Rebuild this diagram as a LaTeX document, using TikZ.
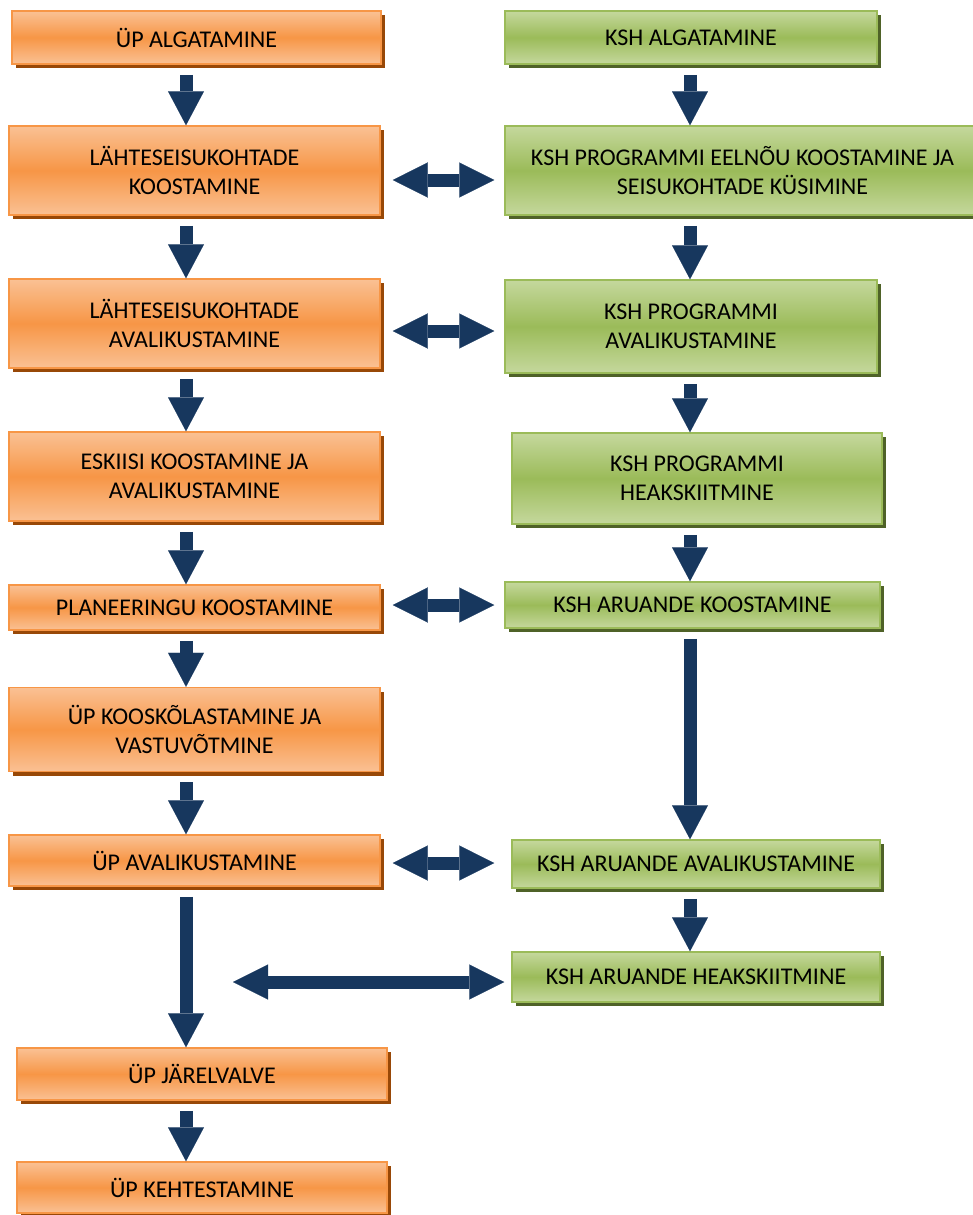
\documentclass[tikz,border=0pt]{standalone}
\usepackage{fontspec}
\setmainfont{Carlito}
\usetikzlibrary{arrows.meta, shadows}
\definecolor{up_orange}{RGB}{247,150,70}
\definecolor{up_light}{RGB}{250,193,148}
\definecolor{up_shadow}{RGB}{152,72,7}
\definecolor{ksh_green}{RGB}{155,187,89}
\definecolor{ksh_light}{RGB}{197,216,157}
\definecolor{ksh_shadow}{RGB}{79,98,40}
\definecolor{arrow_navy}{RGB}{23,55,94}

\begin{document}
\begin{tikzpicture}[
    x=1pt, y=-1pt,
    every node/.style={font=\fontsize{24}{29}\selectfont},
    upbox/.style={draw=up_orange, line width=1.5pt,
                top color=up_light, bottom color=up_light, middle color=up_orange,
                drop shadow={shadow xshift=4pt, shadow yshift=-4pt, fill=up_shadow, opacity=1},
                minimum width=371pt, minimum height=89pt,
                align=center, inner sep=0pt},
    kshbox/.style={draw=ksh_green, line width=1.5pt,
                top color=ksh_light, bottom color=ksh_light, middle color=ksh_green,
                drop shadow={shadow xshift=4pt, shadow yshift=-4pt, fill=ksh_shadow, opacity=1},
                minimum width=372pt, minimum height=89pt,
                align=center, inner sep=0pt},
    flow/.style={line width=13pt, arrow_navy, shorten <=10pt,
                -{Triangle[length=34pt, width=36pt, line width=0.1pt]}},
    dflow/.style={line width=13pt, arrow_navy,
                {Triangle[length=35pt, width=35pt, line width=0.1pt]}-{Triangle[length=35pt, width=35pt, line width=0.1pt]}},
]
\clip (0,0) rectangle (973,1215);

\node[upbox, minimum width=369pt, minimum height=53pt] (L1) at (196.5, 37.5) {ÜP ALGATAMINE};
\node[upbox] (L2) at (194.5, 170.5) {LÄHTESEISUKOHTADE\\KOOSTAMINE};
\node[upbox] (L3) at (194.5, 323.5) {LÄHTESEISUKOHTADE\\AVALIKUSTAMINE};
\node[upbox] (L4) at (194.5, 476.5) {ESKIISI KOOSTAMINE JA\\AVALIKUSTAMINE};
\node[upbox, minimum height=45pt] (L5) at (194.5, 607.5) {PLANEERINGU KOOSTAMINE};
\node[upbox, minimum height=84pt] (L6) at (194.5, 729.5) {ÜP KOOSKÕLASTAMINE JA\\VASTUVÕTMINE};
\node[upbox, minimum height=51pt] (L7) at (194.5, 860.5) {ÜP AVALIKUSTAMINE};
\node[upbox, minimum width=370pt, minimum height=52pt] (L8) at (202, 1074) {ÜP JÄRELVALVE};
\node[upbox, minimum width=370pt, minimum height=51pt] (L9) at (202, 1187.5) {ÜP KEHTESTAMINE};

\node[kshbox, minimum height=53pt] (R1) at (691, 37.5) {KSH ALGATAMINE};
\node[kshbox, minimum width=475pt] (R2) at (742.5, 170.5) {KSH PROGRAMMI EELNÕU KOOSTAMINE JA\\SEISUKOHTADE KÜSIMINE};
\node[kshbox, minimum height=93pt] (R3) at (691, 326.5) {KSH PROGRAMMI\\AVALIKUSTAMINE};
\node[kshbox, minimum width=370pt, minimum height=91pt] (R4) at (697, 478.5) {KSH PROGRAMMI\\HEAKSKIITMINE};
\node[kshbox, minimum width=375pt, minimum height=46pt] (R5) at (692.5, 605) {KSH ARUANDE KOOSTAMINE};
\node[kshbox, minimum width=368pt, minimum height=48pt] (R6) at (696, 864) {KSH ARUANDE AVALIKUSTAMINE};
\node[kshbox, minimum width=368pt, minimum height=50pt] (R7) at (696, 977) {KSH ARUANDE HEAKSKIITMINE};

\coordinate (lcol) at (186, 0);
\coordinate (rcol) at (690, 0);
\coordinate (fromL) at (233, 982);

\draw[flow] (L1.south -| lcol) -- (L2.north -| lcol);
\draw[flow] (L2.south -| lcol) -- (L3.north -| lcol);
\draw[flow] (L3.south -| lcol) -- (L4.north -| lcol);
\draw[flow] (L4.south -| lcol) -- (L5.north -| lcol);
\draw[flow] (L5.south -| lcol) -- (L6.north -| lcol);
\draw[flow] (L6.south -| lcol) -- (L7.north -| lcol);
\draw[flow] (L7.south -| lcol) -- (L8.north -| lcol);
\draw[flow] (L8.south -| lcol) -- (L9.north -| lcol);

\draw[flow] (R1.south -| rcol) -- (R2.north -| rcol);
\draw[flow] (R2.south -| rcol) -- (R3.north -| rcol);
\draw[flow] (R3.south -| rcol) -- (R4.north -| rcol);
\draw[flow] (R4.south -| rcol) -- (R5.north -| rcol);
\draw[flow] (R5.south -| rcol) -- (R6.north -| rcol);
\draw[flow] (R6.south -| rcol) -- (R7.north -| rcol);

\draw[dflow, shorten <=12pt, shorten >=10pt] ([yshift=-9.5pt]L2.east) -- ([yshift=-9.5pt]L2.east -| R2.west);
\draw[dflow, shorten <=12pt, shorten >=10pt] ([yshift=-7.5pt]L3.east) -- ([yshift=-7.5pt]L3.east -| R3.west);
\draw[dflow, shorten <=12pt, shorten >=10pt] ([yshift=2.5pt]L5.east) -- ([yshift=2.5pt]L5.east -| R5.west);
\draw[dflow, shorten <=12pt, shorten >=17pt] ([yshift=-2.5pt]L7.east) -- ([yshift=-2.5pt]L7.east -| R6.west);
\draw[dflow, shorten >=7pt] (fromL) -- (fromL -| R7.west);
\end{tikzpicture}
\end{document}
